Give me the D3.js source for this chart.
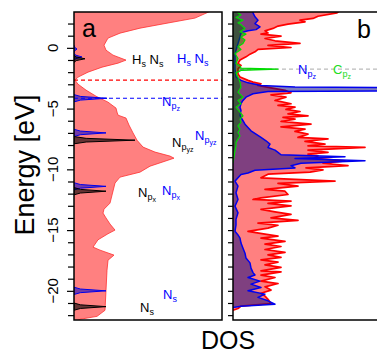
<!DOCTYPE html>
<html>
<head>
<meta charset="utf-8">
<script src="https://cdn.jsdelivr.net/npm/d3@7"></script>
<style>
  body { margin: 0; background: #fff; }
  svg { display: block; font-family: "Liberation Sans", Arial, sans-serif; }
</style>
</head>
<body>
<div id="chart"></div>
<script>
// panel a: total DOS envelope [energy eV, DOS]
const totalA = [[3.0,13.6],[2.45,12.1],[2.03,9.3],[1.62,6.6],[1.21,4.6],[0.8,3.4],[0.22,3.0],[-0.19,3.2],[-0.6,3.9],
  [-1.01,5.2],[-1.26,4.4],[-1.59,2.8],[-2.0,1.4],[-2.41,0.4],[-2.66,0.1],[-2.99,0.4],[-3.48,1.2],[-3.98,2.2],
  [-4.47,3.4],[-4.96,4.2],[-5.29,4.3],[-5.54,4.4],[-5.78,5.2],[-6.36,5.5],[-7.0,5.9],[-7.6,6.3],[-8.17,6.9],
  [-8.58,8.1],[-8.91,9.6],[-9.08,10.0],[-9.33,9.1],[-9.74,7.6],[-10.23,6.6],[-10.64,4.6],[-11.13,4.1],[-12.12,3.8],
  [-12.78,3.6],[-13.28,3.0],[-13.6,2.9],[-14.0,3.2],[-14.5,3.6],[-15.0,4.1],[-15.3,3.4],[-15.8,2.4],[-16.4,1.9],
  [-16.65,2.6],[-17.06,4.0],[-17.48,3.4],[-18.3,3.3],[-19.95,3.2],[-21.6,3.1],[-22.1,2.3],[-22.34,0.6],[-22.6,0]];

// panel a: projected peaks [energy eV, height]
const peaksBlueA = [[-0.1,0.3],[-0.75,0.8],[-4.15,3.3],[-7.0,3.2],[-11.4,3.2],[-20.0,3.2]];
const peaksBlackA = [[-0.9,1.1],[-7.6,6.1],[-11.8,3.2],[-21.3,3.2]];
const levelRedA = -2.66;
const levelBlueA = -4.15;

// panel b: total, N and C projected DOS [energy eV, DOS]
const totalB = [[3.0,10.6],[2.88,10.4],[2.6,8.5],[2.42,8.0],[2.28,6.7],[2.14,7.2],[1.95,5.5],[1.79,4.5],[1.6,4.0],
  [1.4,3.2],[1.23,3.5],[1.13,2.8],[0.96,4.8],[0.77,3.2],[0.58,4.2],[0.36,6.7],[0.2,3.5],[0.03,5.8],[-0.13,2.5],
  [-0.33,2.2],[-0.52,1.7],[-0.74,1.3],[-1.0,0.7],[-1.28,0.5],[-1.45,0.8],[-1.73,0.5],[-2.14,0.5],[-2.4,0.7],
  [-2.68,1.5],[-2.82,2.0],[-2.96,2.8],[-3.1,2.5],[-3.3,3.8],[-3.5,5.2],[-3.7,5.8],[-3.87,3.8],[-4.06,5.3],
  [-4.33,4.2],[-4.6,5.8],[-4.74,4.5],[-4.88,6.2],[-5.07,5.3],[-5.24,6.7],[-5.43,5.5],[-5.6,7.5],[-5.73,5.0],
  [-5.87,6.2],[-6.06,4.8],[-6.28,7.8],[-6.5,4.8],[-6.69,7.2],[-6.88,6.2],[-7.1,7.5],[-7.37,6.5],[-7.5,9.5],
  [-7.7,7.2],[-7.93,9.2],[-8.07,7.5],[-8.2,13.2],[-8.42,7.5],[-8.6,9.5],[-8.75,7.5],[-8.89,8.5],[-9.1,8.2],
  [-9.3,11.2],[-9.5,9.0],[-9.7,11.5],[-9.88,7.3],[-10.05,9.0],[-10.23,7.7],[-10.4,3.5],[-10.7,2.8],[-10.97,10.2],
  [-11.16,4.5],[-11.38,6.5],[-11.65,3.2],[-11.8,5.2],[-12.07,5.5],[-12.35,2.8],[-12.48,2.0],[-12.62,5.8],
  [-12.8,3.5],[-13.0,5.8],[-13.3,2.8],[-13.5,4.2],[-13.7,5.8],[-14.0,3.8],[-14.2,6.5],[-14.43,2.5],[-14.6,4.5],
  [-14.84,3.5],[-15.1,1.5],[-15.33,3.2],[-15.5,4.5],[-15.66,2.8],[-15.93,5.2],[-16.16,3.2],[-16.35,4.8],
  [-16.6,3.2],[-16.84,5.2],[-17.04,3.5],[-17.25,4.8],[-17.45,2.8],[-17.64,4.5],[-17.86,3.2],[-18.07,4.8],
  [-18.35,2.8],[-18.44,4.8],[-18.7,2.8],[-18.9,4.2],[-19.2,2.8],[-19.4,4.5],[-19.67,3.2],[-19.94,3.8],
  [-20.2,2.8],[-20.44,3.2],[-20.7,3.5],[-21.04,3.8],[-21.26,0.8],[-21.45,0.5],[-21.6,0.0]];
const nitrogenB = [[3.0,2.0],[2.88,2.0],[2.55,2.2],[2.28,2.5],[2.0,2.2],[1.73,2.7],[1.5,2.3],[1.4,1.5],[1.23,0.8],
  [0.9,0.7],[0.36,0.5],[-0.19,0.3],[-0.74,0.2],[-1.28,0.2],[-1.73,0.2],[-2.4,0.3],[-2.68,0.8],[-2.88,1.5],
  [-3.1,2.8],[-3.23,6.2],[-3.3,20],[-3.52,20],[-3.6,3.5],[-3.78,2.0],[-4.06,1.3],[-4.33,1.0],[-4.6,0.8],
  [-4.88,0.7],[-5.15,0.8],[-5.56,0.7],[-5.73,0.8],[-6.0,1.0],[-6.28,1.2],[-6.55,1.5],[-6.83,1.8],[-7.1,2.3],
  [-7.37,2.8],[-7.65,3.3],[-7.93,3.7],[-8.2,3.5],[-8.42,4.2],[-8.6,4.5],[-8.8,4.8],[-8.97,11.2],[-9.1,6.2],
  [-9.3,13.2],[-9.5,6.8],[-9.7,5.8],[-9.88,6.2],[-10.07,2.2],[-10.3,1.5],[-10.42,0.8],[-10.7,0.5],[-10.97,0.2],
  [-11.38,0.5],[-11.93,0.3],[-12.48,0.5],[-13.03,0.2],[-13.58,0.5],[-14.12,0.3],[-14.57,0.3],[-15.1,0.2],
  [-15.4,0.5],[-15.66,0.7],[-16.07,0.8],[-16.49,1.0],[-16.9,1.2],[-17.3,1.3],[-17.7,1.7],[-18.13,1.8],
  [-18.5,2.0],[-18.7,2.2],[-18.9,1.5],[-19.2,2.7],[-19.45,1.8],[-19.72,2.8],[-20.0,1.5],[-20.27,3.2],
  [-20.54,2.5],[-20.82,3.5],[-21.1,4.2],[-21.26,0.8],[-21.37,0.0]];
const carbonB = [[3.0,0.5],[2.88,0.5],[2.7,0.8],[2.5,0.3],[2.28,1.0],[2.06,0.5],[1.9,0.8],[1.6,1.2],[1.32,0.7],
  [1.13,1.3],[0.9,0.8],[0.64,1.2],[0.36,1.0],[0.1,0.5],[-0.13,0.8],[-0.46,0.2],[-0.88,0.5],[-1.28,0.3],
  [-1.5,0.7],[-1.67,0.8],[-1.75,4.5],[-1.86,0.8],[-2.06,0.3],[-2.41,0.5],[-2.82,0.7],[-3.23,0.8],[-3.65,0.5],
  [-4.06,1.0],[-4.33,0.5],[-4.6,0.8],[-4.88,0.3],[-5.3,0.7],[-5.6,1.0],[-5.87,0.7],[-6.14,0.8],[-6.42,0.5],
  [-6.69,0.7],[-6.97,0.5],[-7.24,0.7],[-7.5,0.5],[-7.78,0.3],[-8.07,0.3],[-8.5,0.2],[-9.0,0.1],[-9.5,0.0]];
const levelGrayB = -1.75;

// labels: [text, level] pieces, anchored at [energy, DOS]
const labelsA = [
  {c: '#000', E: -1.33, v: 5.8, t: [['H',0],['s',1],[' N',0],['s',1]]},
  {c: '#0000ff', E: -1.25, v: 10.3, t: [['H',0],['s',1],[' N',0],['s',1]]},
  {c: '#0000ff', E: -4.79, v: 8.8, t: [['N',0],['p',1],['z',2]]},
  {c: '#000', E: -8.16, v: 9.8, t: [['N',0],['p',1],['yz',2]]},
  {c: '#0000ff', E: -7.59, v: 12.1, t: [['N',0],['p',1],['yz',2]]},
  {c: '#000', E: -12.28, v: 6.4, t: [['N',0],['p',1],['x',2]]},
  {c: '#0000ff', E: -12.12, v: 8.8, t: [['N',0],['p',1],['x',2]]},
  {c: '#0000ff', E: -20.67, v: 8.9, t: [['N',0],['s',1]]},
  {c: '#000', E: -21.74, v: 6.6, t: [['N',0],['s',1]]}
];
const labelsB = [
  {c: '#0000ff', E: -2.16, v: 6.5, t: [['N',0],['p',1],['z',2]]},
  {c: '#22dd22', E: -2.16, v: 10.0, t: [['C',0],['p',1],['z',2]]}
];
const tickEnergies = d3.range(-22, 3);
const labelEnergies = [0, -5, -10, -15, -20];

const width = 377, height = 354;
const plotTop = 12, plotBottom = 320;
const axA = [74, 222], axB = [233, 385];

const y = d3.scaleLinear().domain([2.95, -22.4]).range([plotTop, plotBottom]);
const xa = d3.scaleLinear().domain([0, 14.8]).range(axA);
const xb = d3.scaleLinear().domain([0, 15.2]).range(axB);

const svg = d3.select('#chart').append('svg')
  .attr('width', width).attr('height', height);

const defs = svg.append('defs');
defs.append('clipPath').attr('id', 'clipA').append('rect')
  .attr('x', axA[0]).attr('y', plotTop).attr('width', axA[1] - axA[0]).attr('height', plotBottom - plotTop);
defs.append('clipPath').attr('id', 'clipB').append('rect')
  .attr('x', axB[0]).attr('y', plotTop).attr('width', axB[1] - axB[0]).attr('height', plotBottom - plotTop);

function areaFor(x) {
  return d3.area().y(d => y(d[0])).x0(x(0)).x1(d => x(d[1]));
}
function lineFor(x) {
  return d3.line().y(d => y(d[0])).x(d => x(d[1]));
}
// narrow peak outline around one [energy, height] value
function peakShape(d) {
  const w = 0.3;
  return [[d[0] + w, 0], [d[0] + w / 2, d[1] * 0.2], [d[0], d[1]], [d[0] - w / 2, d[1] * 0.2], [d[0] - w, 0]];
}

// ---- panel a ----
const ga = svg.append('g').attr('clip-path', 'url(#clipA)');
ga.append('path').datum(totalA)
  .attr('d', areaFor(xa))
  .attr('fill', '#ff8080');
ga.append('path').datum(totalA)
  .attr('d', lineFor(xa))
  .attr('fill', 'none').attr('stroke', '#ff3030').attr('stroke-width', 0.8);

ga.selectAll('.pk-blue').data(peaksBlueA).join('path')
  .attr('d', d => lineFor(xa)(peakShape(d)) + 'Z')
  .attr('fill', 'rgba(0,0,200,0.55)').attr('stroke', '#0000ee').attr('stroke-width', 1);
ga.selectAll('.pk-black').data(peaksBlackA).join('path')
  .attr('d', d => lineFor(xa)(peakShape(d)) + 'Z')
  .attr('fill', 'rgba(0,0,0,0.6)').attr('stroke', '#000').attr('stroke-width', 1);

ga.append('line')
  .attr('x1', axA[0]).attr('x2', axA[1]).attr('y1', y(levelRedA)).attr('y2', y(levelRedA))
  .attr('stroke', '#ff0000').attr('stroke-width', 1.2).attr('stroke-dasharray', '4,3');
ga.append('line')
  .attr('x1', axA[0]).attr('x2', axA[1]).attr('y1', y(levelBlueA)).attr('y2', y(levelBlueA))
  .attr('stroke', '#0000ff').attr('stroke-width', 1.2).attr('stroke-dasharray', '4,3');

// ---- panel b ----
const gb = svg.append('g').attr('clip-path', 'url(#clipB)');
gb.append('line')
  .attr('x1', axB[0]).attr('x2', axB[1]).attr('y1', y(levelGrayB)).attr('y2', y(levelGrayB))
  .attr('stroke', '#bbbbbb').attr('stroke-width', 1.2).attr('stroke-dasharray', '4,3');
gb.append('path').datum(totalB).attr('d', areaFor(xb)).attr('fill', '#ff8080');
gb.append('path').datum(totalB).attr('d', lineFor(xb))
  .attr('fill', 'none').attr('stroke', '#ff0000').attr('stroke-width', 1.7).attr('stroke-linejoin', 'round');
gb.append('path').datum(nitrogenB).attr('d', areaFor(xb)).attr('fill', 'rgba(0,0,128,0.5)');
gb.append('path').datum(nitrogenB).attr('d', lineFor(xb))
  .attr('fill', 'none').attr('stroke', '#0000ee').attr('stroke-width', 1.5).attr('stroke-linejoin', 'round');
gb.append('path').datum(carbonB).attr('d', areaFor(xb)).attr('fill', 'rgba(0,100,0,0.5)');
gb.append('path').datum(carbonB).attr('d', lineFor(xb))
  .attr('fill', 'none').attr('stroke', '#00dd00').attr('stroke-width', 1.2).attr('stroke-linejoin', 'round');

// ---- frames and axes ----
[axA, axB].forEach(ax => {
  svg.append('rect')
    .attr('x', ax[0]).attr('y', plotTop).attr('width', ax[1] - ax[0]).attr('height', plotBottom - plotTop)
    .attr('fill', 'none').attr('stroke', '#000').attr('stroke-width', 1.5);
});

const axisA = d3.axisLeft(y).tickValues(tickEnergies).tickFormat('').tickSizeOuter(0)
  .tickSize(6);
svg.append('g').attr('transform', `translate(${axA[0]},0)`).call(axisA)
  .call(g => g.select('.domain').remove())
  .call(g => g.selectAll('.tick line').attr('stroke-width', 1.2)
    .attr('x2', d => labelEnergies.includes(d) ? -7 : -6));
svg.append('g').attr('transform', `translate(${axB[0]},0)`).call(axisA)
  .call(g => g.select('.domain').remove())
  .call(g => g.selectAll('.tick line').attr('stroke-width', 1.2).attr('x2', -5));

svg.selectAll('.ylab').data(labelEnergies).join('text')
  .attr('transform', d => `translate(58,${y(d)}) rotate(-90)`)
  .attr('text-anchor', 'middle')
  .attr('font-size', 15)
  .text(d => d3.format('d')(d).replace('-', '\u2212'));

svg.append('text')
  .attr('transform', 'translate(34,165) rotate(-90)')
  .attr('text-anchor', 'middle').attr('font-size', 27)
  .text('Energy [eV]');
svg.append('text')
  .attr('x', 228).attr('y', 349).attr('text-anchor', 'middle').attr('font-size', 25)
  .text('DOS');

svg.append('text').attr('x', 82).attr('y', 37).attr('font-size', 25).text('a');
svg.append('text').attr('x', 357).attr('y', 38).attr('font-size', 25).text('b');

// ---- annotations with nested subscripts ----
const sizes = [13, 9, 7], shifts = [0, 3, 5];
function drawLabels(data, x) {
  data.forEach(l => {
    const t = svg.append('text').attr('x', x(l.v)).attr('y', y(l.E)).attr('fill', l.c);
    let prev = 0;
    l.t.forEach(p => {
      t.append('tspan')
        .attr('font-size', sizes[p[1]])
        .attr('dy', shifts[p[1]] - shifts[prev])
        .attr('xml:space', 'preserve')
        .text(p[0]);
      prev = p[1];
    });
  });
}
drawLabels(labelsA, xa);
drawLabels(labelsB, xb);
</script>
</body>
</html>
